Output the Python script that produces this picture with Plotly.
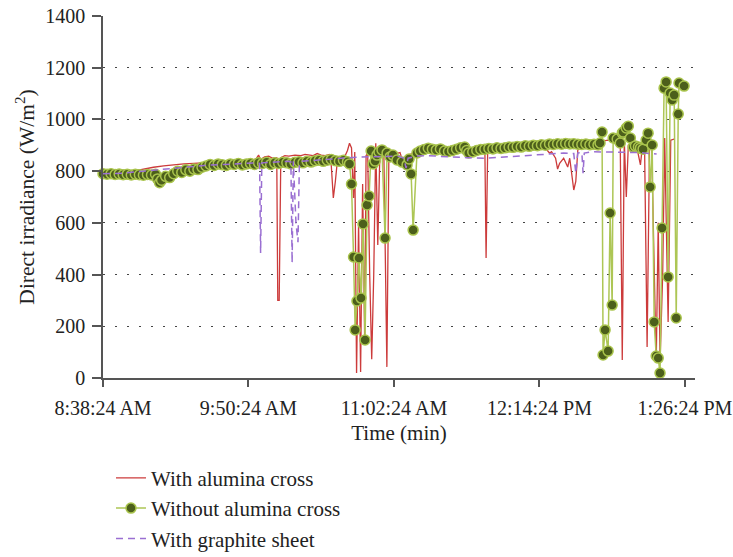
import plotly.graph_objects as go

# ---- data (minutes after 8:38:24 AM, W/m^2) ----
tick_vals = [0, 72, 144, 216, 288]
tick_text = ["8:38:24 AM", "9:50:24 AM", "11:02:24 AM", "12:14:24 PM", "1:26:24 PM"]

red_t = [0, 5, 10, 15, 20, 25, 30, 35, 40, 45, 50, 55, 60, 65, 70, 74, 76, 77, 78, 80, 82, 84, 86,
         86.5, 87.2, 88, 90, 92, 95, 98, 100, 102, 104, 106, 108, 110, 112, 113, 114, 115, 116, 118,
         120, 121, 122, 123, 124, 124.6, 125.5, 126.5, 127.5, 128.5, 129.5, 130.2, 131, 132, 133, 134,
         135, 136, 137, 138, 139, 140.5, 141.5, 143, 145, 147, 149, 150, 152, 155, 158, 162, 166, 170,
         174, 178, 182, 186, 189, 189.6, 190.4, 194, 198, 202, 206, 210, 214, 218, 220, 221, 222, 223,
         224, 225, 226, 228, 230, 231, 232, 233, 234, 235, 238, 242, 246, 250, 254, 256, 257, 258, 259,
         260, 262, 264, 266, 267, 268, 269.3, 270.5, 271.5, 273.8, 274.8, 275.7, 277, 278, 279.7, 281,
         283]
red_v = [790, 792, 795, 800, 808, 815, 820, 825, 828, 830, 832, 835, 833, 836, 838, 840, 850, 862, 845,
         855, 858, 850, 852, 300, 300, 852, 860, 858, 862, 860, 865, 862, 860, 868, 862, 860, 864, 820,
         696, 760, 840, 855, 862, 880, 908, 890, 696, 874, 19, 600, 23, 750, 150, 860, 870, 400, 73, 400,
         908, 514, 860, 880, 870, 43, 870, 878, 868, 872, 820, 860, 865, 875, 880, 885, 882, 878, 882,
         888, 885, 888, 886, 464, 888, 890, 893, 895, 897, 900, 902, 898, 880, 870, 875, 860, 850, 808,
         830, 850, 816, 850, 790, 727, 760, 882, 905, 910, 915, 920, 918, 910, 70, 920, 700, 900, 905,
         900, 824, 900, 920, 120, 900, 910, 58, 600, 60, 400, 928, 217, 920, 925]

green_t = [0, 2, 4, 6, 8, 10, 12, 14, 16, 18, 20, 22, 24, 26, 27, 28, 29, 31, 33, 35, 37, 39, 41, 43,
           45, 47, 49, 51, 53, 55, 57, 59, 61, 63, 65, 67, 69, 71, 73, 75, 77, 79, 81, 83, 85, 87, 89,
           91, 93, 95, 97, 99, 101, 103, 105, 107, 109, 111, 113, 115, 117, 119, 121, 122, 123, 124,
           124.8, 125.7, 126.7, 127.7, 128.7, 129.7, 130.7, 131.7, 132.7, 133.7, 134.7, 135.6, 136.6,
           138.1, 139.6, 140.6, 142.1, 143.5, 145.5, 148, 150.5, 151.5, 152.5, 153.5, 155.4, 157, 159,
           161, 163, 165, 167, 169, 171, 173, 175, 177, 179, 180, 181, 183, 185, 187, 189, 191, 193, 195,
           197, 199, 201, 203, 205, 207, 209, 211, 213, 215, 217, 219, 221, 223, 225, 227, 229, 231, 233,
           235, 237, 239, 241, 243, 245, 246, 247, 247.5, 248.5, 250, 251, 252, 252.5, 254.5, 256, 257,
           257.4, 259, 260, 261, 262.4, 263.5, 265, 266, 267.3, 268.8, 269.8, 270.8, 271.8, 272.8, 273.8,
           274.8, 275.7, 276.7, 277.7, 278.7, 279.7, 280.7, 281.7, 282.7, 283.7, 284.7, 285.1, 287.6]
green_v = [790, 788, 790, 787, 789, 786, 788, 785, 788, 786, 784, 787, 785, 788, 770, 755, 765, 780,
           775, 790, 800, 795, 805, 800, 808, 806, 815, 820, 826, 822, 828, 825, 822, 828, 826, 830, 824,
           828, 830, 826, 832, 830, 834, 826, 832, 830, 834, 832, 828, 834, 836, 832, 838, 835, 840, 842,
           838, 842, 845, 840, 838, 842, 836, 828, 750, 468, 186, 298, 464, 309, 596, 147, 669, 704, 878,
           828, 839, 862, 874, 882, 541, 870, 855, 862, 843, 835, 824, 847, 789, 572, 870, 878, 884, 889,
           885, 882, 886, 878, 876, 880, 885, 890, 893, 880, 870, 874, 880, 884, 885, 888, 886, 890, 888,
           890, 893, 892, 895, 893, 898, 896, 900, 898, 902, 900, 905, 903, 906, 904, 907, 905, 906, 904,
           903, 905, 902, 904, 901, 909, 951, 89, 186, 104, 638, 282, 928, 924, 909, 947, 951, 967, 974,
           928, 893, 897, 893, 889, 885, 920, 947, 739, 901, 217, 85, 77, 19, 580, 1121, 1145, 391, 1102,
           1075, 1094, 232, 1021, 1141, 1129]

purple_t = [0, 10, 20, 30, 40, 50, 60, 70, 76, 77.5, 78, 78.6, 82, 88, 92, 93, 93.6, 94.2, 95.5, 96.5,
            97.2, 98.2, 104, 110, 116, 122, 128, 134, 140, 146, 149, 150, 151, 155, 160, 170, 180, 190,
            200, 210, 220, 228, 233, 234, 235, 237, 237.6, 238.2, 242, 250, 258, 265, 270, 274]
purple_v = [790, 792, 800, 808, 815, 822, 826, 830, 832, 830, 483, 832, 834, 836, 838, 835, 445, 838,
            600, 525, 830, 838, 842, 845, 848, 852, 855, 856, 858, 858, 850, 812, 850, 858, 860, 855, 852,
            850, 855, 860, 866, 870, 868, 792, 870, 872, 792, 870, 875, 875, 873, 872, 868, 866]

series_names = ["With alumina cross", "Without alumina cross", "With graphite sheet"]

FONT = "Liberation Serif"

fig = go.Figure()
fig.add_trace(go.Scatter(x=red_t, y=red_v, mode="lines", name=series_names[0],
                         line=dict(color="#cc3b3b", width=1.3)))
fig.add_trace(go.Scatter(x=green_t, y=green_v, mode="lines+markers", name=series_names[1],
                         line=dict(color="#adc655", width=1.5),
                         marker=dict(size=10, color="#4c5f1b", line=dict(color="#a9c44c", width=1.5)),
                         cliponaxis=False))
fig.add_trace(go.Scatter(x=purple_t, y=purple_v, mode="lines", name=series_names[2],
                         line=dict(color="#9a6fd2", width=1.5, dash="7px,5px")))

fig.update_layout(
    width=733, height=557,
    margin=dict(l=103, r=38, t=16, b=179, autoexpand=False),
    plot_bgcolor="white", paper_bgcolor="white",
    font=dict(family=FONT, size=20, color="#222"),
    legend=dict(x=0.0135, y=-0.22, xanchor="left", yanchor="top", orientation="v",
                traceorder="normal", font=dict(size=21, family=FONT, color="#222"),
                bgcolor="rgba(0,0,0,0)"),
    showlegend=True,
)
fig.update_xaxes(range=[0, 293], tickvals=tick_vals, ticktext=tick_text, ticks="outside", ticklen=7,
                 tickcolor="#555", tickwidth=1.5, showline=True, linecolor="#555", linewidth=1.5,
                 showgrid=False, zeroline=False, automargin=False, ticklabelstandoff=4,
                 title=dict(text="Time (min)", standoff=8, font=dict(size=21)),
                 tickfont=dict(size=20))
fig.update_yaxes(range=[0, 1400], dtick=200, ticks="outside", ticklen=9, tickcolor="#555", tickwidth=1.5,
                 showline=True, linecolor="#555", linewidth=1.5, showgrid=True, gridcolor="#444",
                 gridwidth=1.3, griddash="2px,10px", zeroline=False, automargin=False,
                 ticklabelstandoff=3,
                 title=dict(text="Direct irradiance (W/m<sup>2</sup>)", standoff=5, font=dict(size=21.5)),
                 tickfont=dict(size=20))

fig.write_html("out.html", config={"displayModeBar": False},
               post_script="document.body.style.margin='0px';")
